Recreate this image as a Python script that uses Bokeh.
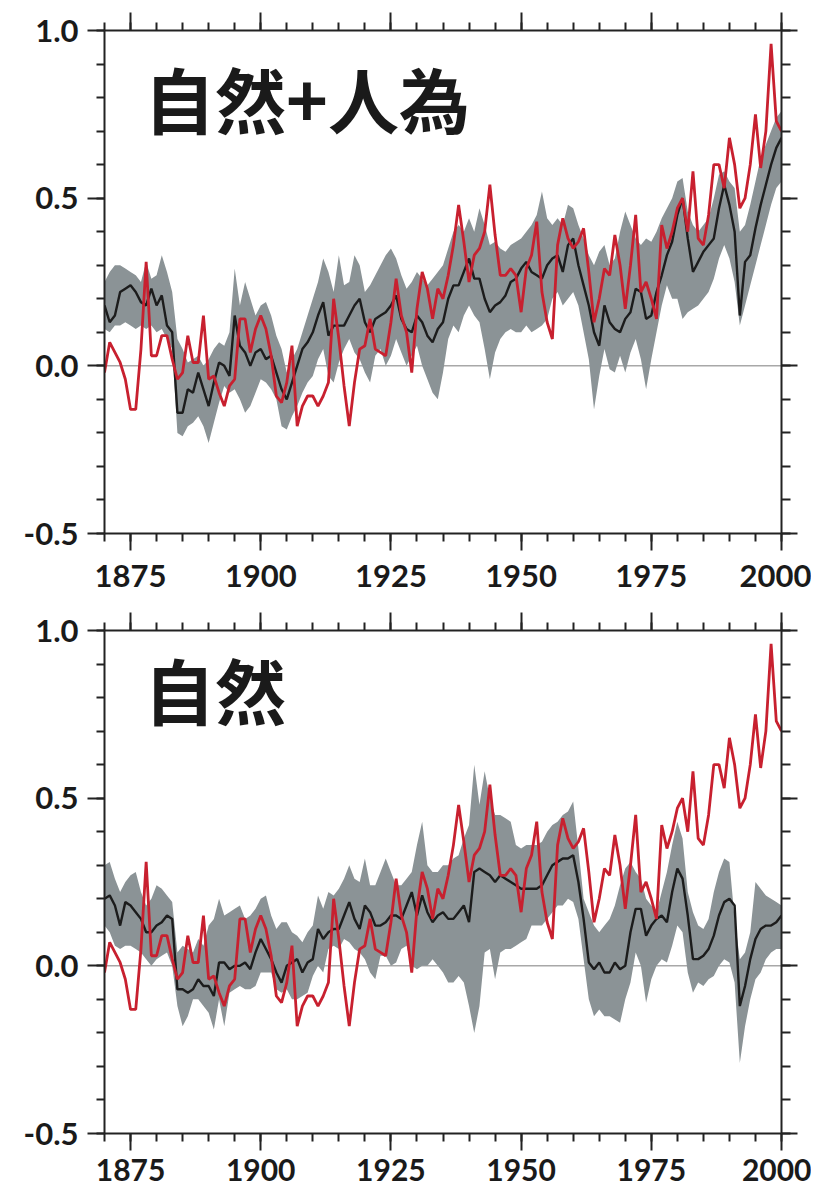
from bokeh.plotting import figure
from bokeh.models import Range1d, FixedTicker, LinearAxis, Span, Label, ColumnDataSource
from bokeh.layouts import column
from bokeh.embed import file_html
from bokeh.resources import INLINE
import numpy as np

years = list(range(1870, 2001))

# Observed global temperature anomaly (red), same in both panels
obs = [-0.02, 0.07, 0.04, 0.01, -0.04, -0.13, -0.13, 0.05, 0.31, 0.03,
       0.03, 0.09, 0.09, 0.02, -0.04, -0.02, 0.09, 0.01, 0.01, 0.15,
       -0.04, -0.03, -0.08, -0.12, -0.06, -0.04, 0.14, 0.14, 0.04, 0.11,
       0.15, 0.11, 0.03, -0.09, -0.11, -0.05, 0.06, -0.18, -0.12, -0.09,
       -0.09, -0.12, -0.09, -0.05, 0.20, 0.08, -0.06, -0.18, -0.05, 0.05,
       0.06, 0.14, 0.05, 0.04, 0.03, 0.13, 0.26, 0.15, 0.10, -0.02,
       0.17, 0.28, 0.23, 0.14, 0.23, 0.20, 0.27, 0.36, 0.48, 0.37,
       0.25, 0.33, 0.35, 0.40, 0.54, 0.39, 0.27, 0.27, 0.29, 0.27,
       0.16, 0.29, 0.33, 0.43, 0.22, 0.13, 0.08, 0.36, 0.44, 0.38,
       0.35, 0.37, 0.41, 0.28, 0.13, 0.20, 0.29, 0.27, 0.39, 0.30,
       0.17, 0.30, 0.45, 0.22, 0.25, 0.20, 0.14, 0.42, 0.35, 0.40,
       0.47, 0.50, 0.40, 0.58, 0.38, 0.36, 0.45, 0.60, 0.60, 0.53,
       0.68, 0.60, 0.47, 0.50, 0.60, 0.75, 0.59, 0.70, 0.96, 0.73,
       0.70]

# Natural + anthropogenic model: ensemble mean and range
anth_mean = [0.18, 0.13, 0.15, 0.22, 0.23, 0.24, 0.22, 0.19, 0.18, 0.23,
             0.18, 0.21, 0.12, 0.10, -0.14, -0.14, -0.07, -0.08, -0.02, -0.07,
             -0.12, -0.05, 0.01, 0.00, -0.03, 0.15, 0.06, 0.04, 0.00, 0.04,
             0.05, 0.02, 0.03, -0.02, -0.07, -0.10, -0.05, 0.00, 0.05, 0.07,
             0.10, 0.15, 0.19, 0.09, 0.12, 0.12, 0.12, 0.15, 0.18, 0.20,
             0.13, 0.10, 0.14, 0.15, 0.16, 0.18, 0.21, 0.14, 0.11, 0.10,
             0.15, 0.13, 0.09, 0.07, 0.11, 0.13, 0.20, 0.24, 0.24, 0.28,
             0.32, 0.26, 0.26, 0.20, 0.16, 0.18, 0.19, 0.21, 0.25, 0.26,
             0.29, 0.31, 0.28, 0.27, 0.26, 0.30, 0.32, 0.33, 0.28, 0.36,
             0.38, 0.30, 0.24, 0.18, 0.10, 0.06, 0.18, 0.13, 0.11, 0.10,
             0.14, 0.16, 0.23, 0.22, 0.14, 0.15, 0.22, 0.27, 0.33, 0.37,
             0.45, 0.50, 0.38, 0.28, 0.31, 0.34, 0.36, 0.38, 0.47, 0.54,
             0.48, 0.40, 0.15, 0.31, 0.33, 0.41, 0.48, 0.54, 0.60, 0.65,
             0.68]
anth_hi = [0.25, 0.28, 0.30, 0.30, 0.29, 0.28, 0.27, 0.25, 0.31, 0.26,
           0.27, 0.33, 0.28, 0.22, 0.08, 0.05, 0.01, 0.02, 0.03, 0.00,
           0.02, 0.05, 0.07, 0.06, 0.10, 0.29, 0.18, 0.25, 0.20, 0.15,
           0.18, 0.19, 0.15, 0.09, 0.05, -0.02, 0.02, 0.05, 0.10, 0.15,
           0.20, 0.25, 0.32, 0.28, 0.22, 0.33, 0.24, 0.25, 0.33, 0.30,
           0.22, 0.24, 0.27, 0.30, 0.33, 0.35, 0.32, 0.27, 0.23, 0.25,
           0.28, 0.26, 0.24, 0.26, 0.28, 0.30, 0.35, 0.40, 0.42, 0.40,
           0.44, 0.40, 0.47, 0.42, 0.36, 0.37, 0.35, 0.34, 0.36, 0.37,
           0.38, 0.40, 0.42, 0.45, 0.52, 0.44, 0.42, 0.44, 0.42, 0.48,
           0.47, 0.42, 0.38, 0.33, 0.30, 0.34, 0.36, 0.30, 0.32, 0.40,
           0.46, 0.42, 0.38, 0.36, 0.38, 0.37, 0.40, 0.44, 0.47, 0.50,
           0.55, 0.56, 0.46, 0.42, 0.40, 0.42, 0.44, 0.50, 0.57, 0.58,
           0.55, 0.53, 0.40, 0.42, 0.48, 0.55, 0.62, 0.66, 0.70, 0.74,
           0.76]
anth_lo = [0.11, 0.10, 0.12, 0.12, 0.13, 0.12, 0.11, 0.12, 0.11, 0.12,
           0.10, 0.11, 0.08, 0.05, -0.20, -0.21, -0.18, -0.17, -0.15, -0.18,
           -0.23, -0.17, -0.11, -0.06, -0.08, -0.07, -0.10, -0.14, -0.12, -0.08,
           -0.04, -0.05, -0.07, -0.10, -0.18, -0.19, -0.15, -0.12, -0.08, -0.05,
           -0.03, 0.02, 0.05, -0.03, -0.05, 0.01, 0.05, 0.08, 0.04, 0.02,
           -0.02, -0.05, 0.03, 0.05, 0.00, 0.03, 0.08, 0.04, 0.00, 0.03,
           0.06, 0.00, -0.04, -0.08, -0.10, -0.02, 0.08, 0.12, 0.10, 0.15,
           0.18, 0.15, 0.13, 0.05, -0.04, 0.04, 0.08, 0.10, 0.11, 0.10,
           0.10, 0.12, 0.10, 0.11, 0.12, 0.14, 0.20, 0.22, 0.18, 0.20,
           0.22, 0.18, 0.10, 0.02, -0.13, -0.03, 0.05, -0.01, -0.02, 0.03,
           -0.02, 0.04, 0.08, 0.02, -0.07, 0.02, 0.10, 0.18, 0.24, 0.20,
           0.20, 0.14, 0.16, 0.17, 0.18, 0.20, 0.22, 0.26, 0.32, 0.36,
           0.32, 0.25, 0.12, 0.18, 0.24, 0.30, 0.36, 0.42, 0.48, 0.53,
           0.55]

# Natural-only model: ensemble mean and range
nat_mean = [0.20, 0.21, 0.18, 0.12, 0.19, 0.18, 0.16, 0.14, 0.10, 0.10,
            0.12, 0.13, 0.15, 0.14, -0.07, -0.07, -0.08, -0.07, -0.04, -0.06,
            -0.06, -0.09, 0.01, 0.01, -0.01, 0.00, 0.00, 0.01, -0.01, 0.04,
            0.08, 0.05, 0.02, -0.02, -0.05, 0.00, 0.01, 0.02, -0.02, 0.01,
            0.02, 0.11, 0.08, 0.10, 0.11, 0.11, 0.15, 0.19, 0.14, 0.11,
            0.18, 0.16, 0.12, 0.12, 0.13, 0.15, 0.15, 0.14, 0.18, 0.22,
            0.15, 0.21, 0.16, 0.13, 0.15, 0.16, 0.14, 0.14, 0.16, 0.18,
            0.13, 0.28, 0.29, 0.28, 0.27, 0.25, 0.27, 0.26, 0.25, 0.24,
            0.23, 0.23, 0.23, 0.23, 0.24, 0.27, 0.30, 0.31, 0.32, 0.32,
            0.33, 0.25, 0.14, 0.01, -0.01, 0.01, -0.02, -0.02, 0.01, -0.01,
            0.00, 0.10, 0.17, 0.17, 0.09, 0.12, 0.14, 0.15, 0.13, 0.22,
            0.29, 0.26, 0.15, 0.02, 0.02, 0.03, 0.05, 0.09, 0.15, 0.19,
            0.20, 0.18, -0.12, -0.06, 0.02, 0.08, 0.11, 0.12, 0.12, 0.13,
            0.15]
nat_hi = [0.30, 0.31, 0.26, 0.22, 0.25, 0.27, 0.28, 0.22, 0.18, 0.20,
          0.24, 0.23, 0.21, 0.19, 0.04, 0.06, 0.05, 0.04, 0.08, 0.06,
          0.12, 0.14, 0.20, 0.15, 0.16, 0.17, 0.18, 0.14, 0.15, 0.17,
          0.20, 0.21, 0.15, 0.11, 0.13, 0.13, 0.10, 0.09, 0.07, 0.10,
          0.12, 0.21, 0.17, 0.22, 0.21, 0.23, 0.26, 0.30, 0.26, 0.25,
          0.32, 0.24, 0.24, 0.28, 0.32, 0.28, 0.24, 0.24, 0.26, 0.28,
          0.36, 0.43, 0.30, 0.28, 0.28, 0.30, 0.30, 0.32, 0.33, 0.38,
          0.42, 0.60, 0.48, 0.58, 0.50, 0.45, 0.45, 0.44, 0.43, 0.36,
          0.35, 0.36, 0.36, 0.36, 0.37, 0.40, 0.42, 0.43, 0.45, 0.46,
          0.49, 0.35, 0.20, 0.16, 0.12, 0.10, 0.12, 0.14, 0.18, 0.24,
          0.29, 0.31, 0.28, 0.26, 0.20, 0.18, 0.16, 0.22, 0.28, 0.36,
          0.43, 0.38, 0.22, 0.16, 0.12, 0.11, 0.14, 0.22, 0.28, 0.32,
          0.31, 0.14, 0.02, 0.04, 0.10, 0.25, 0.23, 0.21, 0.20, 0.19,
          0.18]
nat_lo = [0.12, 0.10, 0.06, 0.05, 0.06, 0.06, 0.05, 0.04, 0.02, 0.00,
          0.02, 0.03, 0.04, 0.00, -0.12, -0.18, -0.15, -0.10, -0.10, -0.12,
          -0.14, -0.19, -0.10, -0.18, -0.08, -0.07, -0.06, -0.07, -0.07, -0.06,
          -0.02, -0.02, -0.02, -0.07, -0.08, -0.07, -0.10, -0.10, -0.09, -0.08,
          -0.03, 0.00, -0.02, 0.05, 0.06, 0.05, 0.08, 0.07, 0.05, 0.04,
          0.02, -0.02, -0.04, 0.03, 0.03, 0.00, 0.01, 0.05, 0.06, 0.00,
          -0.01, 0.00, 0.00, 0.02, 0.00, -0.02, -0.05, -0.05, -0.03, -0.05,
          -0.12, -0.20, -0.12, 0.04, 0.05, -0.04, 0.04, 0.05, 0.05, 0.06,
          0.07, 0.08, 0.12, 0.12, 0.12, 0.14, 0.16, 0.18, 0.18, 0.20,
          0.19, 0.14, 0.02, -0.10, -0.15, -0.13, -0.15, -0.15, -0.16, -0.17,
          -0.10, -0.05, 0.04, 0.00, -0.11, -0.04, 0.00, 0.02, 0.01, 0.06,
          0.12, 0.10, -0.02, -0.08, -0.05, -0.06, -0.04, -0.03, 0.00, 0.02,
          0.01, -0.05, -0.29, -0.18, -0.10, -0.04, -0.02, 0.02, 0.04, 0.05,
          0.05]

panel_titles = ["自然+人為", "自然"]
x_major = [1875, 1900, 1925, 1950, 1975, 2000]
y_major = [-0.5, 0.0, 0.5, 1.0]

RED = "#c8202f"
BLACK = "#1c1c1c"
GREY = "#8b9396"
AX = "#222222"


def make_panel(title, title_y, mean, lo, hi, top_border, bottom_border, x_standoff, x_font):
    height = top_border + 503 + bottom_border
    p = figure(width=811, height=height, x_range=Range1d(1870, 2000),
               y_range=Range1d(-0.5, 1.0), output_backend="svg",
               toolbar_location=None, x_axis_location=None, y_axis_location=None,
               min_border_left=104, min_border_right=30,
               min_border_top=top_border, min_border_bottom=bottom_border)
    p.outline_line_color = None
    p.xgrid.visible = False
    p.ygrid.visible = False
    p.background_fill_color = "white"
    p.border_fill_color = "white"

    xt = FixedTicker(ticks=x_major, minor_ticks=list(range(1870, 2001, 5)))
    yt = FixedTicker(ticks=y_major,
                     minor_ticks=[round(v, 1) for v in np.arange(-0.5, 1.01, 0.1)])

    def style(ax, major_out, minor_out, show_labels, standoff=0, font="31px"):
        ax.axis_line_color = AX
        ax.axis_line_width = 2
        ax.major_tick_line_color = AX
        ax.major_tick_line_width = 2
        ax.minor_tick_line_color = AX
        ax.minor_tick_line_width = 2
        ax.major_tick_in = 0
        ax.minor_tick_in = 0
        ax.major_tick_out = major_out
        ax.minor_tick_out = minor_out
        ax.major_label_standoff = standoff
        if show_labels:
            ax.major_label_text_font = "Lato"
            ax.major_label_text_font_style = "bold"
            ax.major_label_text_font_size = font
            ax.major_label_text_color = "#1a1a1a"
        else:
            ax.major_label_text_font_size = "0px"
            ax.major_label_text_color = None

    left = LinearAxis(ticker=yt)
    style(left, 17, 8, True, standoff=9, font="31px")
    left.major_label_overrides = {-0.5: "-0.5", 0.0: "0.0", 0.5: "0.5", 1.0: "1.0"}
    right = LinearAxis(ticker=yt)
    style(right, 16, 9, False)
    below = LinearAxis(ticker=xt)
    style(below, 17, 8, True, standoff=x_standoff, font=x_font)
    above = LinearAxis(ticker=xt)
    style(above, 18, 8, False)
    p.add_layout(left, "left")
    p.add_layout(right, "right")
    p.add_layout(below, "below")
    p.add_layout(above, "above")

    p.add_layout(Span(location=0, dimension="width", line_color="#a8a8a8",
                      line_width=1.5, level="underlay"))

    src = ColumnDataSource(dict(year=years, obs=obs, mean=mean, lo=lo, hi=hi))
    p.varea(x="year", y1="lo", y2="hi", source=src, fill_color=GREY, fill_alpha=1.0)
    p.line(x="year", y="mean", source=src, line_color=BLACK, line_width=2.4)
    p.line(x="year", y="obs", source=src, line_color=RED, line_width=2.8)

    p.add_layout(Label(x=1877.6, y=title_y, text=title, text_font="Noto Sans CJK JP",
                       text_font_style="bold", text_font_size="71px",
                       text_color="#1a1a1a", text_baseline="middle"))
    return p


p1 = make_panel(panel_titles[0], 0.803, anth_mean, anth_lo, anth_hi, 30, 73, 14, "31px")
p2 = make_panel(panel_titles[1], 0.83, nat_mean, nat_lo, nat_hi, 24, 61, 8, "30px")

layout = column(p1, p2, spacing=0)
open("out.html", "w").write(file_html(layout, INLINE))
